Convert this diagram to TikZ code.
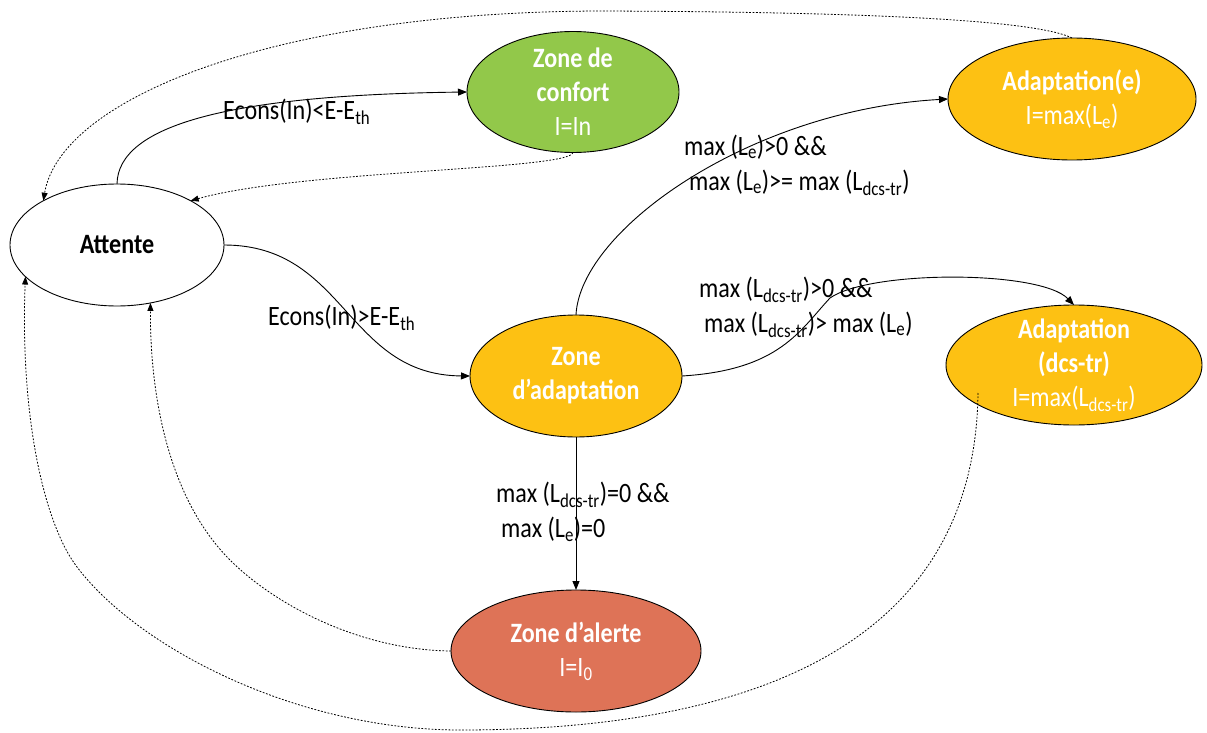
\documentclass[tikz,border=0pt]{standalone}
\usepackage{fontspec}
\setmainfont{Carlito}[FakeStretch=0.86]
\usetikzlibrary{arrows.meta,calc,shapes.geometric}
\definecolor{cgreen}{HTML}{92C84A}
\definecolor{cyellow}{HTML}{FDC113}
\definecolor{cred}{HTML}{DE7357}
\tikzset{
  state/.style={ellipse, draw=black, line width=0.9pt, inner xsep=-10pt, inner ysep=-25pt, outer sep=0pt,
    align=center, font=\fontsize{28}{34}\selectfont},
  wstate/.style={state, fill=white, text=black},
  cstate/.style={state, text=white},
  lbl/.style={anchor=west, align=left, inner sep=0pt, font=\fontsize{28}{35}\selectfont},
  arr/.style={line width=0.9pt, -{Triangle[length=9pt,width=7pt]}},
  dotarr/.style={line width=0.8pt, dash pattern=on 1.8pt off 1.6pt, -{Triangle[length=8pt,width=6pt]}}
}
\begin{document}
\begin{tikzpicture}[x=1pt,y=-1pt]
\useasboundingbox (0,0) rectangle (1207,733);
% states
\node[wstate, minimum width=214pt, minimum height=122pt] (att) at (117,245) {\textbf{Attente}};
\node[cstate, fill=cgreen, minimum width=212pt, minimum height=121pt] (conf) at (573,92) {\textbf{Zone de}\\\textbf{confort}\\I=In};
\node[cstate, fill=cyellow, minimum width=248pt, minimum height=122pt] (ade) at (1072,99) {\textbf{Adaptation(e)}\\I=max(L\textsubscript{e})};
\node[cstate, fill=cyellow, minimum width=212pt, minimum height=122pt] (adz) at (576,376) {\textbf{Zone}\\\textbf{d’adaptation}};
\node[cstate, fill=cyellow, minimum width=256pt, minimum height=120pt] (dcs) at (1074,365) {\textbf{Adaptation}\\\textbf{(dcs-tr)}\\I=max(L\textsubscript{dcs-tr})};
\node[cstate, fill=cred, minimum width=250pt, minimum height=122pt] (alr) at (576,651) {\textbf{Zone d’alerte}\\I=I\textsubscript{0}};
% connectors
\draw[arr] (att.90) .. controls (118,125) and (230,95) .. (conf.180);
\draw[dotarr] (conf.270) .. controls (570,170) and (300,170) .. (att.31);
\draw[dotarr] (ade.90) .. controls (1040,22) and (900,12) .. (600,11) .. controls (270,12) and (60,100) .. (att.149);
\draw[arr] (att.0) .. controls (346,245) and (346,375) .. (adz.180);
\draw[arr] (adz.90) .. controls (580,230) and (750,110) .. (ade.180);
\draw[arr] (adz.0) .. controls (780,370) and (800,330) .. (830,298) .. controls (870,270) and (1040,270) .. (dcs.90);
\draw[arr] (adz.270) -- (alr.90);
\draw[dotarr] (alr.180) .. controls (360,650) and (275,605) .. (230,560) .. controls (170,500) and (150,400) .. (att.-60);
\draw[dotarr] ($(dcs.center)+(-96,28)$) .. controls (975,640) and (760,730) .. (460,730) .. controls (300,730) and (140,650) .. (77,567) .. controls (45,525) and (20,420) .. (att.199);
% labels
\node[lbl] (l1) at (223,112) {Econs(In)<E-E\textsubscript{th}};
\node[lbl] (l2) at (268,318) {Econs(In)>E-E\textsubscript{th}};
\node[lbl] (l3) at (684,165) {max (L\textsubscript{e})>0 \&\&\\\hspace{5pt}max (L\textsubscript{e})>= max (L\textsubscript{dcs-tr})};
\node[lbl] (l4) at (699,307) {max (L\textsubscript{dcs-tr})>0 \&\&\\\hspace{5pt}max (L\textsubscript{dcs-tr})> max (L\textsubscript{e})};
\node[lbl] (l5) at (496,512) {max (L\textsubscript{dcs-tr})=0 \&\&\\\hspace{5pt}max (L\textsubscript{e})=0};
\end{tikzpicture}
\end{document}
